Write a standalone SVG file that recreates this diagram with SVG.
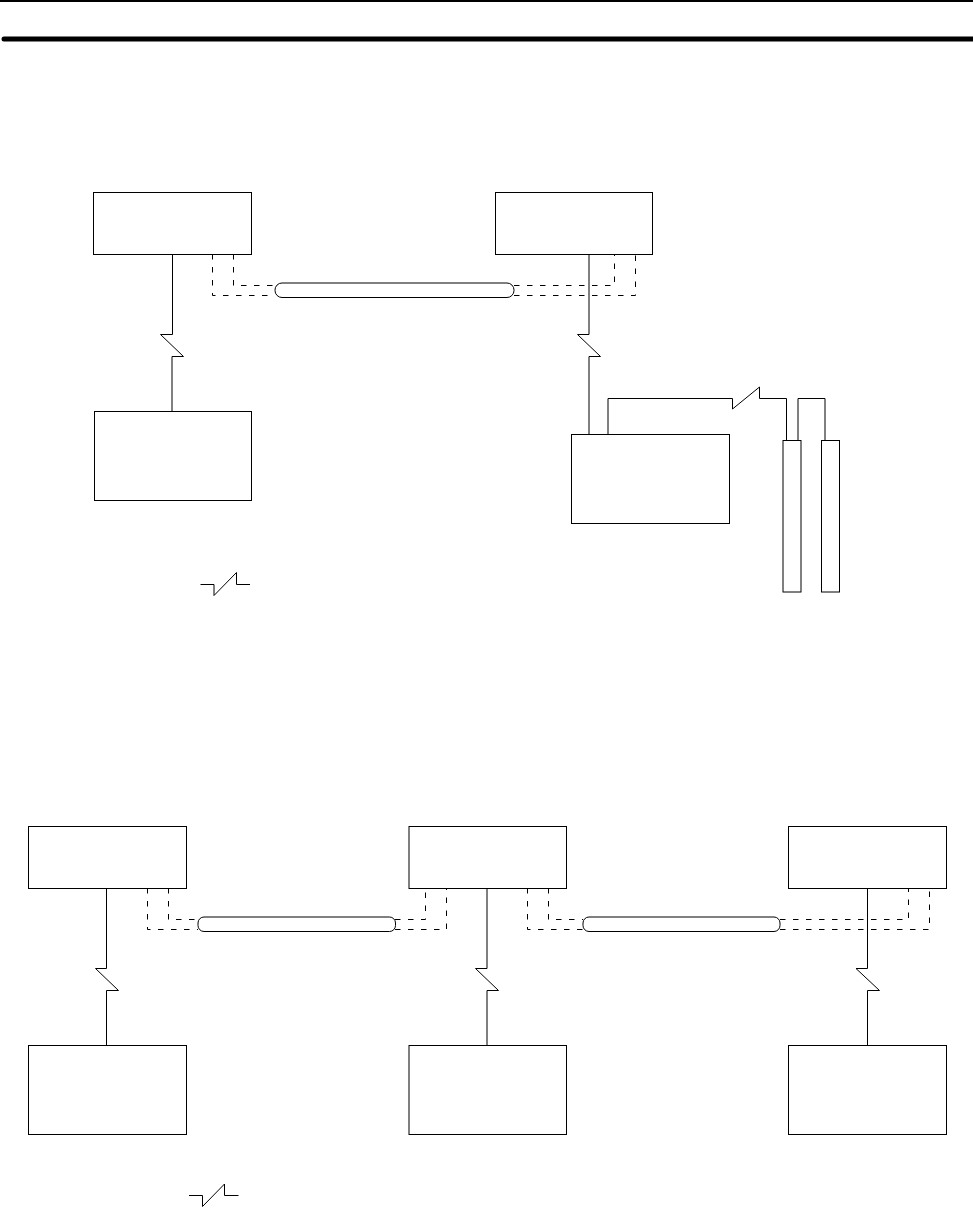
<svg xmlns="http://www.w3.org/2000/svg" width="973" height="1208" viewBox="0 0 973 1208">
<style>
.n{fill:#fff;stroke:#000;stroke-width:1}
.c{fill:none;stroke:#000;stroke-width:1}
.d{fill:none;stroke:#000;stroke-width:1;stroke-dasharray:5.5 7.5}
</style>
<rect width="973" height="1208" fill="#fff"/>
<rect x="0" y="0" width="973" height="2" fill="#000"/>
<path d="M4 36.5H973V41.5H4Q1.5 41.5 1.5 39Q1.5 36.5 4 36.5Z" fill="#000"/>
<g id="connectors">
<path class="d" d="M212.5 254V295.5H275"/>
<path class="d" d="M233.5 254V285.5H275"/>
<path class="d" d="M514 285.5H614.5V254"/>
<path class="d" d="M514 295.5H635.5V254"/>
<path class="c" d="M172.5 254V334.5H160.5L183.5 356.5H172V411"/>
<path class="c" d="M589 254V334.5H577.5L600.5 356.5H589V434"/>
<path class="c" d="M608 434V398.5H732.5V409L759.5 387V398.5H786.5V440"/>
<path class="c" d="M798 440V398.5H825V440"/>
<path class="c" d="M200.5 584.5H214V595.5L236.5 572.5V584.5H250"/>
<path class="d" d="M147.5 888V929.5H198"/>
<path class="d" d="M168.5 888V919.5H198"/>
<path class="d" d="M395 919.5H425.5V888"/>
<path class="d" d="M395 929.5H446.5V888"/>
<path class="d" d="M527.5 888V929.5H583"/>
<path class="d" d="M548.5 888V919.5H583"/>
<path class="d" d="M780 919.5H908.5V888"/>
<path class="d" d="M780 929.5H929.5V888"/>
<path class="c" d="M106.5 888V968.5H95.5L118.5 990.5H106.5V1045"/>
<path class="c" d="M487 888V968.5H475.5L498.5 990.5H487V1045"/>
<path class="c" d="M867.5 888V968.5H856L879.5 990.5H867.5V1045"/>
<path class="c" d="M189 1195.5H202.5V1206.5L224.5 1184V1195.5H238.5"/>
</g>
<g id="node-a"><rect class="n" x="93.5" y="192.5" width="158" height="62"/></g>
<g id="node-b"><rect class="n" x="495.5" y="192.5" width="157" height="62"/></g>
<g id="node-c"><rect class="n" x="94.5" y="411.5" width="157" height="89"/></g>
<g id="node-d"><rect class="n" x="571.5" y="434.5" width="158" height="89"/></g>
<g id="node-e"><rect class="n" x="783" y="440.5" width="18" height="151.5"/></g>
<g id="node-f"><rect class="n" x="821.5" y="440.5" width="18" height="151.5"/></g>
<g id="cable-1"><rect class="n" x="275" y="283" width="239" height="14.5" rx="7"/></g>
<g id="node-g"><rect class="n" x="28.5" y="826.5" width="158" height="62"/></g>
<g id="node-h"><rect class="n" x="409" y="826.5" width="157.5" height="62"/></g>
<g id="node-i"><rect class="n" x="788.5" y="826.5" width="158" height="62"/></g>
<g id="node-j"><rect class="n" x="28.5" y="1045.5" width="158" height="89"/></g>
<g id="node-k"><rect class="n" x="409" y="1045.5" width="157.5" height="89"/></g>
<g id="node-l"><rect class="n" x="788.5" y="1045.5" width="158" height="89"/></g>
<g id="cable-2"><rect class="n" x="198" y="917" width="197.5" height="14.5" rx="6"/></g>
<g id="cable-3"><rect class="n" x="583" y="917" width="197" height="14.5" rx="6"/></g>
</svg>
